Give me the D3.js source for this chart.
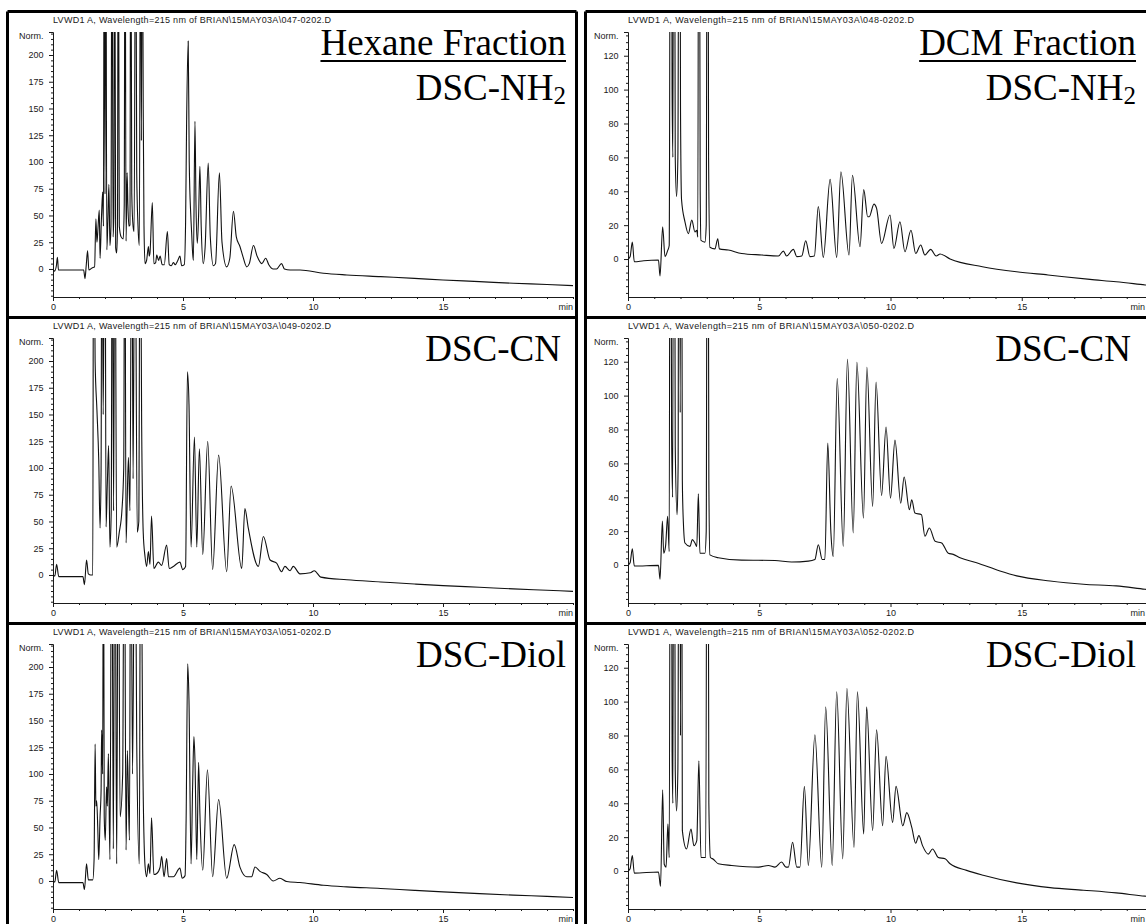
<!DOCTYPE html>
<html>
<head>
<meta charset="utf-8">
<script src="https://cdn.jsdelivr.net/npm/d3@7"></script>
<style>
  body { margin: 0; background: #fff; }
  svg { display: block; }
  .small { font-family: "Liberation Sans", Arial, sans-serif; font-size: 9px; fill: #1a1a1a; }
  .big { font-family: "Liberation Serif", "Times New Roman", serif; font-size: 37px; fill: #000; }
  .axis path, .axis line { stroke: #1a1a1a; stroke-width: 1; }
  .axis text { font-family: "Liberation Sans", Arial, sans-serif; font-size: 9px; fill: #1a1a1a; }
</style>
</head>
<body>
<svg id="chart" width="1146" height="924"></svg>
<script>
// ---- tick labels and titles ----
const timeTicks = [0, 5, 10, 15];
const hexaneTicks = [0, 25, 50, 75, 100, 125, 150, 175, 200];
const dcmTicks = [0, 20, 40, 60, 80, 100, 120];
const fractions = ["Hexane Fraction", "DCM Fraction"];
const phases = ["DSC-NH", "DSC-CN", "DSC-Diol"];
const phaseSubs = ["2", "", ""];
const hexaneFiles = ["047-0202.D", "049-0202.D", "051-0202.D"];
const dcmFiles = ["048-0202.D", "050-0202.D", "052-0202.D"];

// ---- detector traces: [retention time (min), signal (Norm.)] ----
// values above the axis top are off-scale peaks
const hexaneNH2 = [[0,0],[0.06,-2],[0.13,3],[0.17,11],[0.21,-1],[0.5,-1],[1.18,-1],[1.23,-9],[1.28,4],[1.33,17],[1.38,-1],[1.5,1],[1.6,2],[1.65,47],[1.69,25],[1.73,38],[1.78,55],[1.81,10],[1.86,45],[1.91,72],[1.94,40],[1.97,400],[2.0,70],[2.03,400],[2.07,18],[2.11,45],[2.15,79],[2.19,22],[2.23,40],[2.27,400],[2.31,30],[2.34,50],[2.37,400],[2.41,20],[2.45,15],[2.48,40],[2.51,400],[2.55,40],[2.62,30],[2.7,28],[2.74,60],[2.77,400],[2.81,26],[2.85,90],[2.88,60],[2.92,40],[2.96,41],[2.99,400],[3.03,70],[3.08,40],[3.12,35],[3.18,400],[3.22,90],[3.27,40],[3.32,22],[3.37,400],[3.4,120],[3.43,400],[3.47,150],[3.5,40],[3.54,5],[3.6,8],[3.67,21],[3.7,12],[3.73,15],[3.82,62],[3.88,5],[3.95,6],[3.99,13],[4.06,8],[4.12,12],[4.2,4],[4.28,4],[4.4,35],[4.47,4],[4.55,3],[4.63,6],[4.7,4],[4.8,8],[4.88,12],[4.95,3],[5.05,4],[5.1,44],[5.14,140],[5.2,213],[5.24,100],[5.3,50],[5.33,35],[5.37,15],[5.4,8],[5.46,138],[5.5,60],[5.55,24],[5.6,50],[5.65,96],[5.7,40],[5.78,5],[5.85,20],[5.97,99],[6.05,30],[6.17,3],[6.25,5],[6.4,90],[6.5,25],[6.68,2],[6.8,10],[6.94,54],[7.05,30],[7.19,21],[7.3,12],[7.45,2],[7.55,5],[7.71,22],[7.85,12],[8.03,5],[8.18,10],[8.3,4],[8.47,0],[8.6,0],[8.79,5],[8.9,0],[9.12,-1],[9.5,-1],[10.4,-4],[11.3,-5.6],[12.6,-7.2],[13.9,-8.8],[15.0,-10.3],[16.4,-11.8],[17.7,-13.4],[19.0,-14.5],[20,-15.6]];

const hexaneCN = [[0,0],[0.07,-1],[0.14,10],[0.22,-1.5],[1.15,-1.5],[1.21,-9],[1.29,14],[1.36,1],[1.45,0],[1.53,0],[1.56,400],[1.62,200],[1.69,154],[1.76,107],[1.81,44],[1.85,100],[1.88,400],[1.93,150],[2.0,400],[2.04,45],[2.09,86],[2.14,121],[2.19,26],[2.24,60],[2.28,400],[2.33,60],[2.38,400],[2.45,26],[2.55,40],[2.65,60],[2.72,100],[2.76,400],[2.81,30],[2.9,110],[2.96,60],[3.03,400],[3.08,90],[3.15,400],[3.24,40],[3.3,50],[3.35,400],[3.41,140],[3.47,40],[3.54,17],[3.6,8],[3.67,22],[3.73,10],[3.79,55],[3.88,6],[4.05,12],[4.18,9],[4.37,28],[4.47,6],[4.63,8],[4.88,12],[4.99,5],[5.1,8],[5.17,190],[5.23,160],[5.31,26],[5.44,129],[5.53,26],[5.63,118],[5.76,19],[5.95,125],[6.14,5],[6.37,112],[6.68,3],[6.85,83],[7.26,6],[7.38,62],[7.51,44],[7.9,8],[8.09,36],[8.35,14],[8.6,11],[8.79,3],[8.92,8],[9.12,4],[9.24,8],[9.5,1],[9.9,2],[10.05,4],[10.3,-2],[11.3,-4.5],[12.6,-6.5],[13.9,-8.5],[15.0,-10],[16.4,-11.5],[17.7,-13],[19.0,-14.3],[20,-15.3]];

const hexaneDiol = [[0,0],[0.07,-1],[0.14,10],[0.22,-1.5],[1.15,-1.5],[1.21,-8],[1.29,16],[1.36,1],[1.53,1],[1.58,20],[1.62,128],[1.65,70],[1.68,75],[1.72,51],[1.76,20],[1.81,60],[1.85,85],[1.87,141],[1.91,100],[1.94,400],[1.97,60],[2.01,38],[2.06,88],[2.09,70],[2.13,119],[2.19,20],[2.26,400],[2.32,30],[2.38,400],[2.45,16],[2.51,400],[2.58,60],[2.68,100],[2.74,400],[2.81,29],[2.86,122],[2.94,38],[2.99,400],[3.06,100],[3.15,400],[3.22,130],[3.32,16],[3.37,400],[3.45,122],[3.54,14],[3.6,4],[3.67,16],[3.73,7],[3.79,59],[3.88,6],[3.99,7],[4.12,13],[4.18,23],[4.27,4],[4.37,21],[4.44,4],[4.63,4],[4.88,12],[4.97,2.5],[5.08,5],[5.12,57],[5.18,203],[5.23,169],[5.31,16],[5.37,88],[5.42,135],[5.46,113],[5.53,20],[5.6,111],[5.65,63],[5.76,10],[5.94,104],[6.14,4],[6.37,76],[6.68,2.5],[6.97,34],[7.19,13],[7.45,4],[7.64,4],[7.77,13],[7.96,9],[8.22,6],[8.47,0],[8.73,2.5],[8.99,-0.5],[9.5,-1.5],[10.4,-4],[11.3,-5.5],[12.6,-7],[13.9,-8.8],[15.0,-10.2],[16.4,-11.8],[17.7,-13.2],[19.0,-14.4],[20,-15.4]];

const dcmNH2 = [[0,0],[0.08,1.4],[0.165,10],[0.24,-1.6],[0.6,-1],[1.16,-0.6],[1.22,-10],[1.32,19],[1.41,1.4],[1.51,5],[1.57,8],[1.63,400],[1.68,100],[1.71,60],[1.75,400],[1.8,60],[1.85,37],[1.9,60],[1.96,400],[2.0,90],[2.04,35],[2.17,22],[2.3,15],[2.43,23],[2.55,16],[2.62,17],[2.66,13],[2.70,400],[2.75,40],[2.78,11],[2.93,10],[2.98,20],[3.03,400],[3.07,60],[3.12,7],[3.31,6],[3.42,12],[3.48,6],[3.82,5.3],[4.33,3.3],[5.09,2.4],[5.73,1.8],[5.92,4.7],[6.04,1.8],[6.3,5.7],[6.43,1.4],[6.62,1.8],[6.77,10.8],[6.93,1.4],[7.1,1.8],[7.25,31],[7.44,1],[7.70,47],[7.95,1],[8.11,51.5],[8.42,2.4],[8.55,49.5],[8.84,7.3],[8.98,41],[9.13,25],[9.19,25],[9.37,32.4],[9.47,29.9],[9.66,9.2],[9.98,26],[10.13,6.3],[10.36,22],[10.55,4.3],[10.78,17],[10.96,3.3],[11.15,8.3],[11.31,2.4],[11.53,5.7],[11.74,1.8],[11.89,3],[12.27,0],[13.5,-4.5],[14.8,-7.5],[16.0,-9.4],[17.6,-12],[18.6,-13.4],[19.7,-15.3],[20,-15.8]];

const dcmCN = [[0,0],[0.08,1.4],[0.165,9.6],[0.24,-0.6],[1.16,-0.2],[1.22,-8.4],[1.31,26],[1.36,7],[1.43,11],[1.51,28.7],[1.57,8],[1.61,400],[1.66,80],[1.70,40],[1.75,400],[1.8,70],[1.87,29.7],[1.91,60],[1.94,400],[1.99,90],[2.02,400],[2.07,50],[2.11,25],[2.17,13],[2.36,11],[2.45,15],[2.55,13],[2.62,11],[2.68,42],[2.74,7],[2.93,7],[2.98,20],[3.03,400],[3.08,50],[3.12,6],[3.44,4.3],[4.33,2.9],[5.6,2.7],[6.23,1.8],[6.87,2.3],[7.12,3.3],[7.25,12],[7.4,3.3],[7.5,3.3],[7.61,72],[7.73,19],[7.82,5],[7.97,110],[8.2,11],[8.36,121.5],[8.58,19],[8.72,119.6],[8.97,27.7],[9.10,116.7],[9.32,34.6],[9.45,108],[9.66,41],[9.83,81.5],[10.0,39.5],[10.17,73.7],[10.39,36.5],[10.52,52],[10.72,32.6],[10.81,38.5],[10.93,30.7],[11.18,29.7],[11.31,17],[11.48,21.9],[11.70,14],[11.95,13],[12.2,7],[12.39,6.3],[12.65,4.3],[13.28,1.4],[14.17,-3.5],[14.81,-6.4],[16.08,-9.4],[17.35,-11.3],[18.6,-12.3],[19.7,-14.3],[20,-14.8]];

const dcmDiol = [[0,0],[0.08,1.4],[0.165,9.2],[0.24,-1.2],[1.16,-0.6],[1.24,-9],[1.32,48],[1.38,4],[1.45,2.3],[1.52,27.7],[1.57,8],[1.63,400],[1.68,70],[1.71,40],[1.75,400],[1.8,60],[1.85,35.5],[1.9,60],[1.96,400],[2.0,80],[2.03,400],[2.07,24],[2.23,13],[2.4,24.8],[2.51,15],[2.62,18],[2.70,65],[2.78,8],[2.96,8],[3.03,400],[3.08,40],[3.14,8],[3.25,7],[3.44,4.3],[3.95,3.3],[4.97,2.3],[5.35,3.3],[5.6,2.3],[5.85,5.3],[6.02,2.3],[6.11,2.3],[6.27,17],[6.43,2.3],[6.55,2.3],[6.72,50],[6.87,3.3],[7.12,80.4],[7.38,2.3],[7.53,97],[7.78,3.3],[7.95,105.8],[8.18,7.2],[8.34,107.7],[8.61,14],[8.74,105.8],[8.98,21.9],[9.09,97],[9.32,23.8],[9.47,83.3],[9.70,26.7],[9.83,67.7],[10.08,28.7],[10.21,50],[10.47,26.7],[10.62,34.5],[10.81,25.8],[10.96,16.4],[11.08,20.9],[11.22,15],[11.44,10],[11.6,13],[11.82,8],[12.08,7.2],[12.27,4.3],[12.9,0.4],[13.53,-2.5],[14.81,-7],[16.08,-9.8],[17.35,-11.3],[18.6,-12.9],[19.7,-14.8],[20,-15.2]];

const hexaneTraces = [hexaneNH2, hexaneCN, hexaneDiol];
const dcmTraces = [dcmNH2, dcmCN, dcmDiol];

// ---- layout ----
const W = 1146;
const svg = d3.select("#chart");
const rowStep = 306;
const columns = [
  { frameL: 7.5, frameR: 576.5, plotL: 53, pxPerMin: 26, labelEnd: 566,
    yDomain: [-26.2, 221.5], ticks: hexaneTicks, minorStep: 5, titleLen: 278,
    traces: hexaneTraces, files: hexaneFiles, fraction: fractions[0] },
  { frameL: 585.5, frameR: 1150, plotL: 628, pxPerMin: 26.25, labelEnd: 1136,
    yDomain: [-22.4, 134], ticks: dcmTicks, minorStep: 4, titleLen: 286,
    traces: dcmTraces, files: dcmFiles, fraction: fractions[1] }
];

const defs = svg.append("defs");

columns.forEach((col, ci) => {
  const g = svg.append("g");

  phases.forEach((phase, ri) => {
    const oy = ri * rowStep;
    const top = 32 + oy, bottom = 297 + oy;
    const xEnd = col.plotL + 20 * col.pxPerMin;
    const x = d3.scaleLinear().domain([0, 20]).range([col.plotL, xEnd]);
    const y = d3.scaleLinear().domain(col.yDomain).range([bottom, top]);

    // run header
    g.append("text").attr("class", "small")
      .attr("x", col.plotL).attr("y", 23 + oy)
      .attr("textLength", col.titleLen).attr("lengthAdjust", "spacing")
      .text("LVWD1 A, Wavelength=215 nm of BRIAN\\15MAY03A\\" + col.files[ri]);

    // y axis: major ticks with labels, minor ticks without
    const yMajor = d3.axisLeft(y).tickValues(col.ticks).tickSize(4).tickPadding(5.5).tickSizeOuter(0);
    g.append("g").attr("class", "axis").attr("transform", `translate(${col.plotL},0)`).call(yMajor);
    const minorVals = d3.range(Math.ceil(col.yDomain[0] / col.minorStep) * col.minorStep, col.yDomain[1], col.minorStep)
      .filter(v => !col.ticks.includes(v));
    const yMinor = d3.axisLeft(y).tickValues(minorVals).tickSize(2).tickFormat("").tickSizeOuter(0);
    g.append("g").attr("class", "axis").attr("transform", `translate(${col.plotL},0)`).call(yMinor);
    // top tick next to the unit label
    g.append("line").attr("x1", col.plotL - 4).attr("x2", col.plotL)
      .attr("y1", top + 0.5).attr("y2", top + 0.5).attr("stroke", "#1a1a1a");
    g.append("text").attr("class", "small").attr("text-anchor", "end")
      .attr("x", col.plotL - 9.5).attr("y", top + 6.5).text("Norm.");

    // x axis
    const xMajor = d3.axisBottom(x).tickValues(timeTicks).tickSize(4).tickPadding(3)
      .tickFormat(d3.format("d")).tickSizeOuter(0);
    g.append("g").attr("class", "axis").attr("transform", `translate(0,${bottom})`).call(xMajor);
    const xMinor = d3.axisBottom(x).tickValues(d3.range(1, 21).filter(v => !timeTicks.includes(v)))
      .tickSize(2).tickFormat("").tickSizeOuter(0);
    g.append("g").attr("class", "axis").attr("transform", `translate(0,${bottom})`).call(xMinor);
    g.append("text").attr("class", "small").attr("text-anchor", "end")
      .attr("x", Math.min(x(20), W - 1)).attr("y", bottom + 13).text("min");

    // trace, clipped to the plotting area
    const clipId = `clip-${ci}-${ri}`;
    defs.append("clipPath").attr("id", clipId).append("rect")
      .attr("x", col.plotL).attr("y", top).attr("width", xEnd - col.plotL).attr("height", bottom - top);
    const line = d3.line().curve(d3.curveMonotoneX).x(d => x(d[0])).y(d => y(d[1]));
    g.append("path").datum(col.traces[ri])
      .attr("clip-path", `url(#${clipId})`)
      .attr("fill", "none").attr("stroke", "#111").attr("stroke-width", 1.1)
      .attr("stroke-linejoin", "round")
      .attr("d", line);

    // stationary phase label
    const nameY = (ri === 0 ? 100 : 55) + oy;
    const endX = col.labelEnd - (ri === 1 ? 5 : 0);
    const t = g.append("text").attr("class", "big").attr("text-anchor", "end")
      .attr("x", endX).attr("y", nameY);
    t.append("tspan").text(phase);
    if (phaseSubs[ri]) {
      t.append("tspan").attr("font-size", 25).attr("dy", 4).text(phaseSubs[ri]);
    }
  });

  // fraction heading, underlined
  const ft = g.append("text").attr("class", "big").attr("text-anchor", "end")
    .attr("x", col.labelEnd).attr("y", 55).text(col.fraction);
  const w = ft.node().getComputedTextLength();
  g.append("line").attr("x1", col.labelEnd - w).attr("x2", col.labelEnd)
    .attr("y1", 61).attr("y2", 61).attr("stroke", "#000").attr("stroke-width", 2);

  // panel frame and row dividers
  const frame = g.append("g").attr("stroke", "#000").attr("stroke-width", 3).attr("fill", "none");
  frame.append("line").attr("x1", col.frameL).attr("x2", col.frameL).attr("y1", 11.5).attr("y2", 930);
  frame.append("line").attr("x1", col.frameR).attr("x2", col.frameR).attr("y1", 11.5).attr("y2", 930);
  [0, 1, 2].forEach(r => {
    frame.append("line").attr("x1", col.frameL).attr("x2", col.frameR)
      .attr("y1", 11.5 + r * rowStep).attr("y2", 11.5 + r * rowStep);
  });
});
</script>
</body>
</html>
